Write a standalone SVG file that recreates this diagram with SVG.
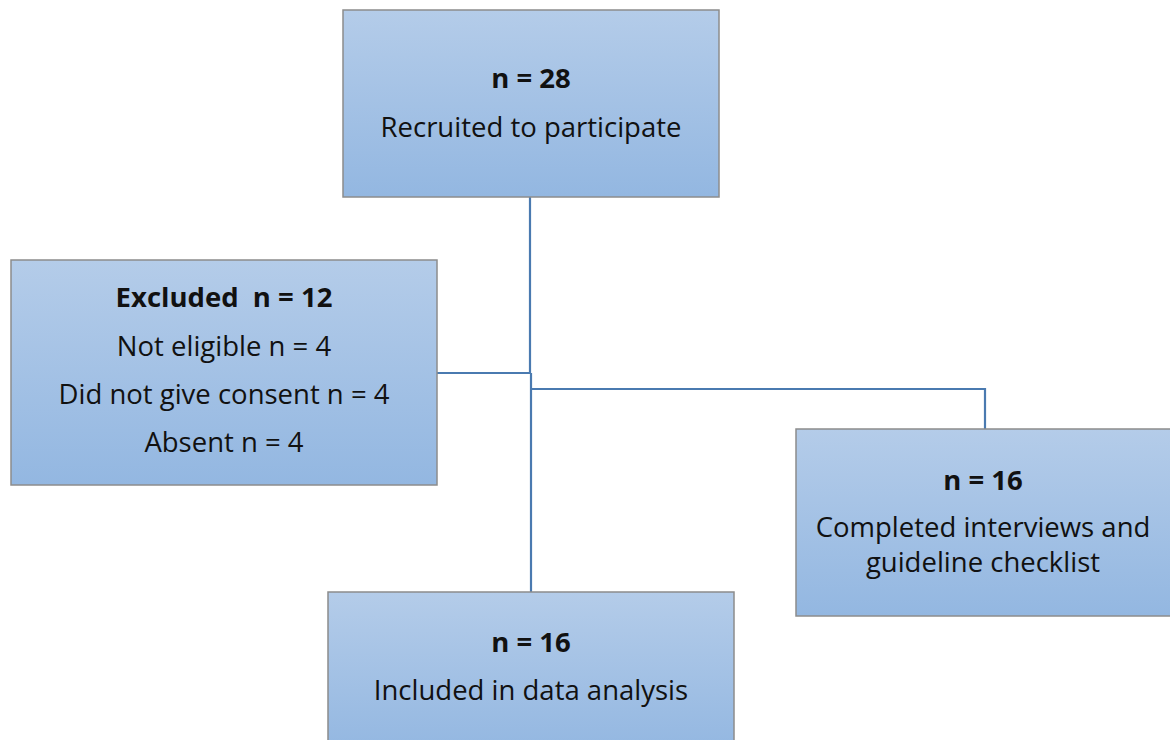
<svg xmlns="http://www.w3.org/2000/svg" width="1170" height="740" viewBox="0 0 1170 740">
<defs>
<linearGradient id="g" x1="0" y1="0" x2="0" y2="1">
<stop offset="0" stop-color="#b4cce9"/>
<stop offset="1" stop-color="#93b7e1"/>
</linearGradient>
<style>
.box{fill:url(#g);stroke:#8c8c8c;stroke-width:1.5}
.t{font-family:"Open Sans","Liberation Sans",sans-serif;font-size:27.5px;fill:#111;text-anchor:middle;white-space:pre}
.b{font-weight:bold}
.c{fill:none;stroke:#4a7ab0;stroke-width:2.2}
</style>
</defs>
<rect width="1170" height="740" fill="#fff"/>
<g id="connectors">
<polyline class="c" points="530,197 530,373 437,373"/>
<polyline class="c" points="531,373 531,592"/>
<polyline class="c" points="531,389 985,389 985,429"/>
</g>
<g id="recruited">
<rect class="box" x="343" y="10" width="376" height="187"/>
<text class="t b" x="531" y="88">n = 28</text>
<text class="t" x="531" y="137">Recruited to participate</text>
</g>
<g id="excluded">
<rect class="box" x="11" y="260" width="426" height="225"/>
<text class="t b" x="224" y="307" xml:space="preserve">Excluded  n = 12</text>
<text class="t" x="224" y="356">Not eligible n = 4</text>
<text class="t" x="224" y="404">Did not give consent n = 4</text>
<text class="t" x="224" y="452">Absent n = 4</text>
</g>
<g id="completed">
<rect class="box" x="796" y="429" width="390" height="187"/>
<text class="t b" x="983" y="490">n = 16</text>
<text class="t" x="983" y="537">Completed interviews and</text>
<text class="t" x="983" y="572">guideline checklist</text>
</g>
<g id="included">
<rect class="box" x="328" y="592" width="406" height="160"/>
<text class="t b" x="531" y="652">n = 16</text>
<text class="t" x="531" y="700">Included in data analysis</text>
</g>
</svg>
